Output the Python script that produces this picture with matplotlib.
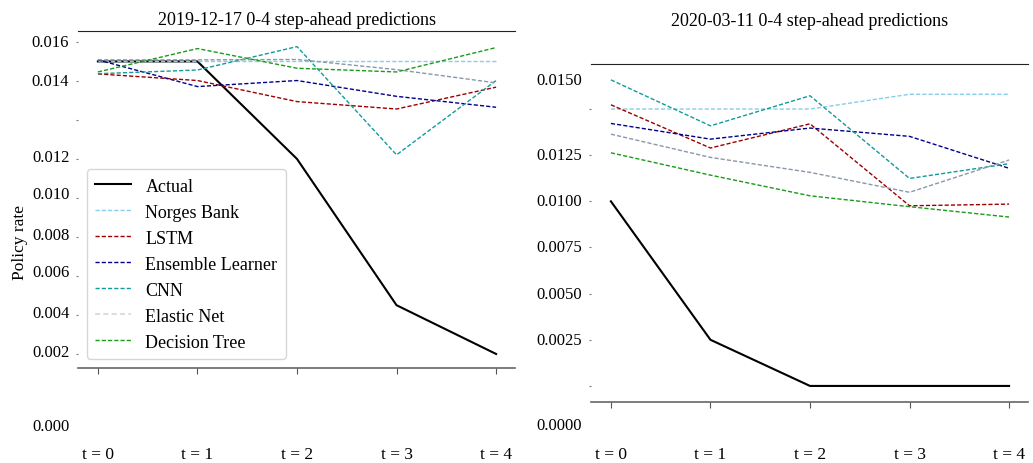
import matplotlib
matplotlib.use("Agg")
import matplotlib.pyplot as plt
from matplotlib.lines import Line2D

plt.rcParams['font.family'] = ['Liberation Serif', 'DejaVu Serif']

steps = [0, 1, 2, 3, 4]
step_labels = ["t = 0", "t = 1", "t = 2", "t = 3", "t = 4"]
models = ["Actual", "Norges Bank", "LSTM", "Ensemble Learner", "CNN", "Elastic Net", "Decision Tree"]

# 2019-12-17
left_vals = {
    "Actual":           [0.0150, 0.0150, 0.0100, 0.0025, 0.0000],
    "Norges Bank":      [0.0150, 0.0150, 0.0150, 0.0150, 0.0150],
    "LSTM":             [0.01436, 0.01402, 0.01294, 0.01256, 0.01368],
    "Ensemble Learner": [0.01508, 0.01371, 0.01402, 0.01321, 0.01265],
    "CNN":              [0.01437, 0.01456, 0.01576, 0.01021, 0.01402],
    "Elastic Net":      [0.01508, 0.01508, 0.01510, 0.01458, 0.01390],
    "Decision Tree":    [0.01446, 0.01566, 0.01465, 0.01446, 0.01571],
}
# 2020-03-11
right_vals = {
    "Actual":           [0.0100, 0.0025, 0.0000, 0.0000, 0.0000],
    "Norges Bank":      [0.0150, 0.0150, 0.0150, 0.0158, 0.0158],
    "LSTM":             [0.01523, 0.01289, 0.01420, 0.00976, 0.00985],
    "Ensemble Learner": [0.01422, 0.01337, 0.01397, 0.01352, 0.01179],
    "CNN":              [0.01658, 0.01409, 0.01572, 0.01124, 0.01204],
    "Elastic Net":      [0.01364, 0.01238, 0.01157, 0.01049, 0.01224],
    "Decision Tree":    [0.01263, 0.01142, 0.01030, 0.00971, 0.00915],
}

left_ticks = [0.0, 0.002, 0.004, 0.006, 0.008, 0.010, 0.012, 0.014, 0.016]
left_tick_text = ["0.016", "0.014", "0.012", "0.010", "0.008", "0.006", "0.004", "0.002", "0.000"]
left_text_pos = [0.0160, 0.0140, 0.0101, 0.0082, 0.0061, 0.0042, 0.0021, 0.0001, -0.0037]

right_ticks = [0.0, 0.0025, 0.005, 0.0075, 0.010, 0.0125, 0.015]
right_tick_text = ["0.0150", "0.0125", "0.0100", "0.0075", "0.0050", "0.0025", "0.0000"]
right_text_pos = [0.0166, 0.0125, 0.0100, 0.0075, 0.0050, 0.0025, -0.0021]

colors = {
    "Actual": "black",
    "Norges Bank": "#87ceeb",
    "LSTM": "#9b0000",
    "Ensemble Learner": "#00008b",
    "CNN": "#139a9a",
    "Elastic Net": "#8a98a8",
    "Decision Tree": "#1a9a1a",
}

fig = plt.figure(figsize=(10.33, 4.64), dpi=100)
W, H = 1033, 464
ax1 = fig.add_axes([78 / W, 1 - 369 / H, 437 / W, 337 / H])
ax2 = fig.add_axes([591 / W, 1 - 403 / H, 437 / W, 338 / H])


def draw(ax, vals, title, ticks, tick_text, text_pos, ylim, title_pad, xpad):
    for m in models:
        if m == "Actual":
            ax.plot(steps, vals[m], color=colors[m], lw=1.5, label=m)
        else:
            ax.plot(steps, vals[m], color=colors[m], lw=1.0, ls=(0, (3, 1.5)), label=m)
    ax.set_xlim(-0.2, 4.19)
    ax.set_ylim(*ylim)
    ax.set_xticks(steps)
    ax.set_xticklabels(step_labels, fontsize=12.5)
    ax.set_yticks(ticks)
    ax.set_yticklabels([""] * len(ticks))
    ax.tick_params(axis='x', length=4, color='#555555', pad=xpad)
    ax.tick_params(axis='y', length=1.2, color='#777777')
    for lab, y in zip(tick_text, text_pos):
        ax.text(-0.02, y, lab, transform=ax.get_yaxis_transform(), ha='right',
                va='center', fontsize=12, clip_on=False)
    for s in ['left', 'right']:
        ax.spines[s].set_visible(False)
    ax.spines['top'].set_color('#222222')
    ax.spines['bottom'].set_color('#666666')
    ax.spines['bottom'].set_linewidth(1.2)
    ax.set_title(title, fontsize=13, pad=title_pad)


draw(ax1, left_vals, "2019-12-17 0-4 step-ahead predictions", left_ticks, left_tick_text,
     left_text_pos, (-0.00072, 0.01656), 5, 52)
draw(ax2, right_vals, "2020-03-11 0-4 step-ahead predictions", right_ticks, right_tick_text,
     right_text_pos, (-0.00087, 0.01744), 28, 28)

ax1.set_ylabel("Policy rate", fontsize=12.5)
ax1.yaxis.set_label_coords(-0.114, 0.374)

handles = []
for m in models:
    if m == "Actual":
        handles.append(Line2D([], [], color='black', lw=1.5))
    elif m == "Elastic Net":
        handles.append(Line2D([], [], color='#d4d7dd', lw=1.2, ls=(0, (3, 2))))
    else:
        handles.append(Line2D([], [], color=colors[m], lw=1.0, ls=(0, (3, 1.5))))
ax1.legend(handles, models, loc='lower left', bbox_to_anchor=(0.02, 0.027),
           borderaxespad=0, fontsize=13, labelspacing=0.5, borderpad=0.45,
           handlelength=2.0, handletextpad=0.8, frameon=True, edgecolor='#cccccc')

fig.savefig("out.png", dpi=100)
